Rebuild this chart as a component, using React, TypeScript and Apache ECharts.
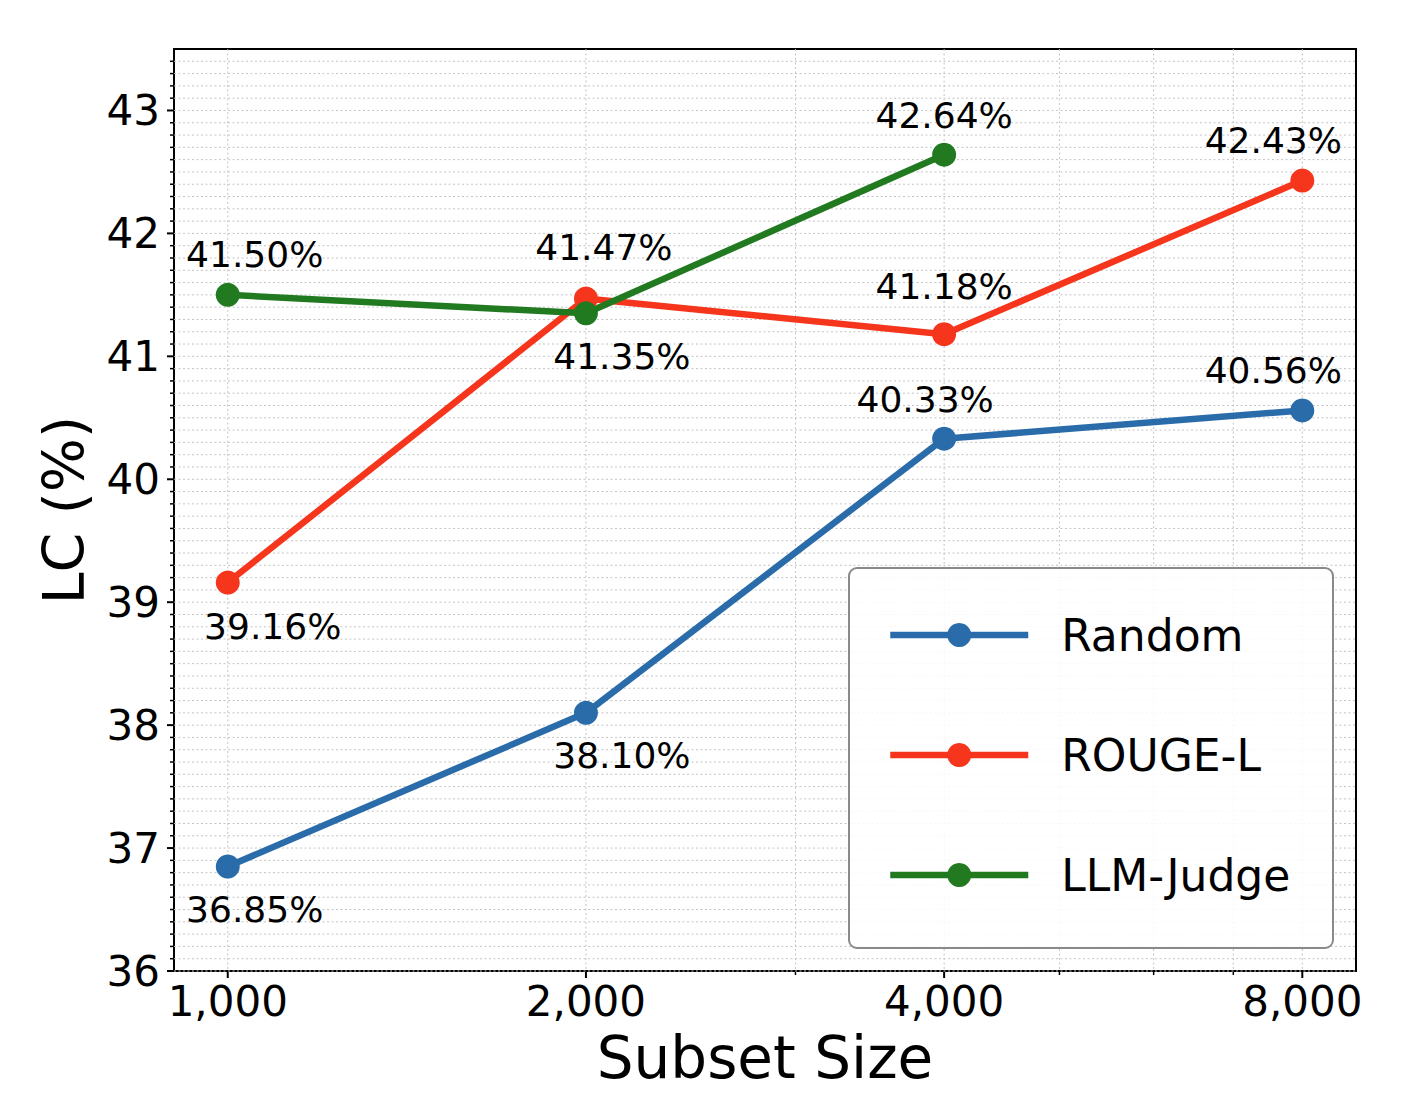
import React, { useEffect, useRef } from "react";
import * as echarts from "echarts";

// ---- data ----
const SIZES = [1000, 2000, 4000, 8000];
const RANDOM = [36.85, 38.1, 40.33, 40.56];
const ROUGE_L = [39.16, 41.47, 41.18, 42.43];
const LLM_JUDGE = [41.5, 41.35, 42.64];
const SERIES_NAMES = ["Random", "ROUGE-L", "LLM-Judge"];

const X_MAJOR_TICKS = [1000, 2000, 4000, 8000];
const X_TICK_LABELS = ["1,000", "2,000", "4,000", "8,000"];
const X_MINOR_TICKS = [3000, 5000, 6000, 7000];
const Y_MAJOR_TICKS = [36, 37, 38, 39, 40, 41, 42, 43];
const Y_TICK_LABELS = ["36", "37", "38", "39", "40", "41", "42", "43"];
const Y_MINOR_STEP = 0.1;

const X_MIN = 901.2;
const X_MAX = 8876;
const Y_MIN = 36;
const Y_MAX = 43.5;

// ---- label placement (style, not data) ----
const RANDOM_LABEL_OFFSETS = [[27, 43], [36, 43], [-19, -39], [-29, -40]];
const ROUGE_LABEL_OFFSETS = [[45, 44], [18, -51], [0, -48], [-29, -40]];
const LLM_LABEL_OFFSETS = [[27, -40], [36, 43], [0, -39]];

const COLORS = ["#2a6ca9", "#f5361c", "#217a1f"];
const FONT = "DejaVu Sans";
const GRID_COLOR = "#c4c4c4";

function buildYMinor(): number[] {
  const out: number[] = [];
  const n = Math.round((Y_MAX - Y_MIN) / Y_MINOR_STEP);
  for (let i = 1; i < n; i++) {
    if (i % 10 !== 0) out.push(Math.round((Y_MIN + i * Y_MINOR_STEP) * 100) / 100);
  }
  return out;
}

export default function App() {
  const ref = useRef<HTMLDivElement>(null);

  useEffect(() => {
    document.body.style.margin = "0";
    if (!ref.current) return;
    const chart = echarts.init(ref.current, null, { renderer: "svg" });

    const xTicks = [
      ...X_MAJOR_TICKS.map((v, i) => ({ v, major: true, label: X_TICK_LABELS[i] })),
      ...X_MINOR_TICKS.map((v) => ({ v, major: false, label: "" })),
    ];
    const yTicks = [
      ...Y_MAJOR_TICKS.map((v, i) => ({ v, major: true, label: Y_TICK_LABELS[i] })),
      ...buildYMinor().map((v) => ({ v, major: false, label: "" })),
    ];

    const makeSeries = (name: string, vals: number[], offsets: number[][], color: string) => ({
      name,
      type: "line",
      data: vals.map((y, i) => ({
        value: [SIZES[i], y],
        label: { offset: offsets[i] },
      })),
      symbol: "circle",
      symbolSize: 24,
      lineStyle: { width: 6.5, color },
      itemStyle: { color },
      z: 3,
      label: {
        show: true,
        position: "inside",
        align: "center",
        verticalAlign: "middle",
        fontSize: 36,
        fontFamily: FONT,
        color: "#000",
        formatter: (p: any) => p.value[1].toFixed(2) + "%",
      },
      emphasis: { disabled: true },
    });

    const dash = [2, 2.5];

    chart.setOption({
      animation: false,
      backgroundColor: "#fff",
      grid: {
        left: 174,
        top: 49,
        width: 1182,
        height: 922,
        show: true,
        borderColor: "#000",
        borderWidth: 2,
        backgroundColor: "#fff",
        containLabel: false,
      },
      xAxis: {
        type: "log",
        logBase: 10,
        min: X_MIN,
        max: X_MAX,
        axisLine: { show: false },
        axisTick: { show: false },
        axisLabel: { show: false },
        splitLine: { show: false },
        minorTick: { show: false },
        name: "Subset Size",
        nameLocation: "middle",
        nameGap: 58,
        nameTextStyle: { fontSize: 58, fontFamily: FONT, color: "#000", verticalAlign: "top" },
      },
      yAxis: {
        type: "value",
        min: Y_MIN,
        max: Y_MAX,
        axisLine: { show: false },
        axisTick: { show: false },
        axisLabel: { show: false },
        splitLine: { show: false },
        name: "LC (%)",
        nameLocation: "middle",
        nameRotate: 90,
        nameGap: 82,
        nameTextStyle: { fontSize: 57, fontFamily: FONT, color: "#000" },
      },
      legend: {
        data: SERIES_NAMES,
        orient: "vertical",
        left: 882,
        top: 595,
        itemWidth: 138,
        itemHeight: 30,
        itemGap: 50,
        lineStyle: { width: 6.5 },
        textStyle: {
          fontSize: 44,
          fontFamily: FONT,
          color: "#000",
          lineHeight: 50,
          padding: [20, 0, 0, 28],
        },
        selectedMode: false,
        z: 5,
      },
      graphic: [
        {
          type: "rect",
          z: 4,
          shape: { x: 849, y: 568, width: 484, height: 380, r: 8 },
          style: { fill: "rgba(255,255,255,0.85)", stroke: "#8a8a8a", lineWidth: 2 },
          silent: true,
        },
      ],
      series: [
        {
          type: "custom",
          name: "xticks",
          silent: true,
          z: 1,
          data: xTicks.map((t) => [t.v, Y_MIN]),
          encode: { x: 0, y: 1 },
          renderItem: (params: any, api: any) => {
            const t = xTicks[params.dataIndex];
            const cs = params.coordSys;
            const x = api.coord([t.v, Y_MIN])[0];
            const yb = cs.y + cs.height;
            const children: any[] = [
              {
                type: "line",
                shape: { x1: x, y1: cs.y, x2: x, y2: yb },
                style: { stroke: GRID_COLOR, lineWidth: 1, lineDash: dash },
              },
              {
                type: "line",
                shape: { x1: x, y1: yb, x2: x, y2: yb + (t.major ? 7 : 4) },
                style: { stroke: "#000", lineWidth: t.major ? 2 : 1.5 },
              },
            ];
            if (t.label) {
              children.push({
                type: "text",
                x,
                y: yb + 30,
                style: {
                  text: t.label,
                  fontSize: 42,
                  fontFamily: FONT,
                  fill: "#000",
                  align: "center",
                  verticalAlign: "middle",
                },
              });
            }
            return { type: "group", children };
          },
        },
        {
          type: "custom",
          name: "yticks",
          silent: true,
          z: 1,
          data: yTicks.map((t) => [X_MIN, t.v]),
          encode: { x: 0, y: 1 },
          renderItem: (params: any, api: any) => {
            const t = yTicks[params.dataIndex];
            const cs = params.coordSys;
            const y = api.coord([X_MIN, t.v])[1];
            const xl = cs.x;
            const children: any[] = [
              {
                type: "line",
                shape: { x1: xl, y1: y, x2: cs.x + cs.width, y2: y },
                style: { stroke: GRID_COLOR, lineWidth: 1, lineDash: dash },
              },
              {
                type: "line",
                shape: { x1: xl - (t.major ? 7 : 4), y1: y, x2: xl, y2: y },
                style: { stroke: "#000", lineWidth: t.major ? 2 : 1.5 },
              },
            ];
            if (t.label) {
              children.push({
                type: "text",
                x: xl - 14,
                y,
                style: {
                  text: t.label,
                  fontSize: 42,
                  fontFamily: FONT,
                  fill: "#000",
                  align: "right",
                  verticalAlign: "middle",
                },
              });
            }
            return { type: "group", children };
          },
        },
        makeSeries(SERIES_NAMES[0], RANDOM, RANDOM_LABEL_OFFSETS, COLORS[0]),
        makeSeries(SERIES_NAMES[1], ROUGE_L, ROUGE_LABEL_OFFSETS, COLORS[1]),
        makeSeries(SERIES_NAMES[2], LLM_JUDGE, LLM_LABEL_OFFSETS, COLORS[2]),
      ],
    });

    return () => chart.dispose();
  }, []);

  return <div ref={ref} style={{ width: 1410, height: 1112 }} />;
}
